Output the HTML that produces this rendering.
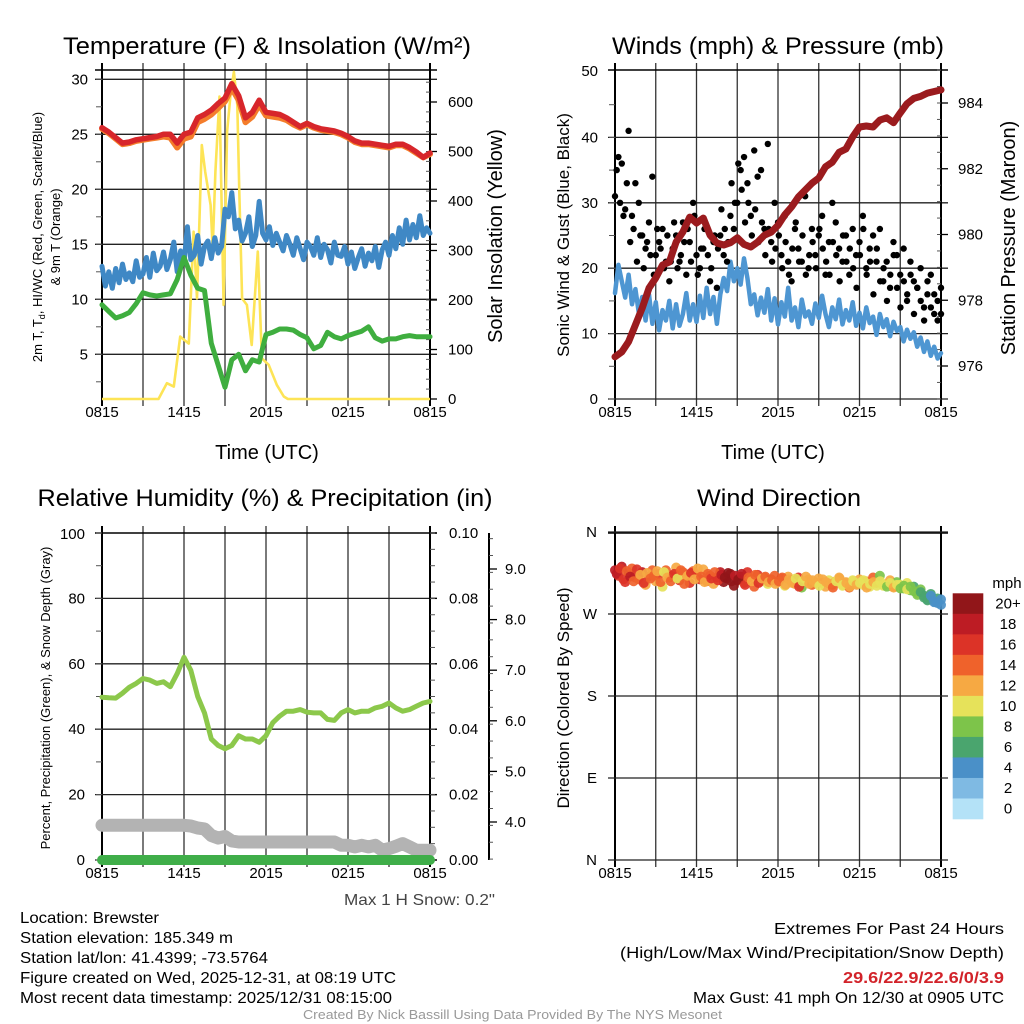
<!DOCTYPE html>
<html><head><meta charset="utf-8"><title>Brewster Meteogram</title>
<style>
html,body{margin:0;padding:0;background:#fff;}
svg{display:block;font-family:"Liberation Sans",Arial,sans-serif;}
</style></head>
<body>
<svg id="fig" width="1024" height="1024" viewBox="0 0 1024 1024" xmlns="http://www.w3.org/2000/svg">
<rect width="1024" height="1024" fill="#fff"/>
<g id="layer"></g>
<!-- titles -->
<text x="267" y="54" font-size="24" text-anchor="middle" textLength="408" lengthAdjust="spacingAndGlyphs">Temperature (F) &amp; Insolation (W/m²)</text>
<text x="778" y="54" font-size="24" text-anchor="middle" textLength="332" lengthAdjust="spacingAndGlyphs">Winds (mph) &amp; Pressure (mb)</text>
<text x="265" y="506" font-size="24" text-anchor="middle" textLength="455" lengthAdjust="spacingAndGlyphs">Relative Humidity (%) &amp; Precipitation (in)</text>
<text x="779" y="506" font-size="24" text-anchor="middle" textLength="164" lengthAdjust="spacingAndGlyphs">Wind Direction</text>
<!-- axis titles -->
<text x="267" y="459" font-size="20" text-anchor="middle">Time (UTC)</text>
<text x="773" y="459" font-size="20" text-anchor="middle">Time (UTC)</text>
<text transform="translate(502,236) rotate(-90)" font-size="20" text-anchor="middle">Solar Insolation (Yellow)</text>
<text transform="translate(1015,238) rotate(-90)" font-size="20" text-anchor="middle">Station Pressure (Maroon)</text>
<text transform="translate(569,235) rotate(-90)" font-size="17" text-anchor="middle">Sonic Wind &amp; Gust (Blue, Black)</text>
<text transform="translate(42,237) rotate(-90)" font-size="13" text-anchor="middle">2m T, T<tspan font-size="9" dy="3">d</tspan><tspan dy="-3">, HI/WC (Red, Green, Scarlet/Blue)</tspan></text>
<text transform="translate(60,237) rotate(-90)" font-size="13" text-anchor="middle">&amp; 9m T (Orange)</text>
<text transform="translate(50,698) rotate(-90)" font-size="13" text-anchor="middle">Percent, Precipitation (Green), &amp; Snow Depth (Gray)</text>
<text transform="translate(569,698) rotate(-90)" font-size="17" text-anchor="middle">Direction (Colored By Speed)</text>
<text x="344" y="905" font-size="16" fill="#444" textLength="151" lengthAdjust="spacingAndGlyphs">Max 1 H Snow: 0.2"</text>
<text x="1007" y="588" font-size="15" text-anchor="middle">mph</text>
<!-- info text -->
<g font-size="16">
<text x="20" y="923" textLength="139" lengthAdjust="spacingAndGlyphs">Location: Brewster</text>
<text x="20" y="943" textLength="213" lengthAdjust="spacingAndGlyphs">Station elevation: 185.349 m</text>
<text x="20" y="963" textLength="248" lengthAdjust="spacingAndGlyphs">Station lat/lon: 41.4399; -73.5764</text>
<text x="20" y="983" textLength="376" lengthAdjust="spacingAndGlyphs">Figure created on Wed, 2025-12-31, at 08:19 UTC</text>
<text x="20" y="1003" textLength="372" lengthAdjust="spacingAndGlyphs">Most recent data timestamp: 2025/12/31 08:15:00</text>
</g>
<g font-size="16">
<text x="774" y="934" textLength="230" lengthAdjust="spacingAndGlyphs">Extremes For Past 24 Hours</text>
<text x="620" y="958" textLength="384" lengthAdjust="spacingAndGlyphs">(High/Low/Max Wind/Precipitation/Snow Depth)</text>
<text x="843" y="983" fill="#d2232a" font-weight="bold" textLength="161" lengthAdjust="spacingAndGlyphs">29.6/22.9/22.6/0/3.9</text>
<text x="693" y="1003" textLength="311" lengthAdjust="spacingAndGlyphs">Max Gust: 41 mph On 12/30 at 0905 UTC</text>
</g>
<text x="303" y="1019" font-size="12.5" fill="#999" textLength="419" lengthAdjust="spacingAndGlyphs">Created By Nick Bassill Using Data Provided By The NYS Mesonet</text>
</svg>
<script>
// ---------- data ----------
var timeLabels = ["0815","1415","2015","0215","0815"];
var tempTicks = [5,10,15,20,25,30];
var insolTicks = [0,100,200,300,400,500,600];
var windTicks = [0,10,20,30,40];
var presTicks = [976,978,980,982,984];
var rhTicks = [0,20,40,60,80];
var precipTicks = ["0.00","0.02","0.04","0.06","0.08","0.10"];
var snowTicks = ["4.0","5.0","6.0","7.0","8.0","9.0"];
var dirTicks = ["N","E","S","W","N"];
var speedLabels = ["20+","18","16","14","12","10","8","6","4","2","0"];
var speedColors = ["#911619","#bd1c24","#dc3327","#ef622b","#f6a943","#e6e25a","#7dc44a","#4aa56e","#4a90c8","#7fbae3","#b4e2f7"];
// half-hourly temps (49)
var tempRed = [25.6,25.2,24.7,24.2,24.3,24.5,24.6,24.7,24.8,25.0,25.0,24.2,25.0,25.2,26.5,26.8,27.2,27.8,28.3,29.6,28.5,26.5,27.0,28.1,27.0,26.9,26.8,26.5,26.1,25.7,26.0,25.7,25.5,25.4,25.3,25.1,24.8,24.4,24.2,24.2,24.1,24.0,23.9,24.1,24.1,23.8,23.4,22.9,23.3];
var temp9m = [25.5,25.1,24.6,24.1,24.2,24.4,24.5,24.6,24.7,24.8,24.7,23.8,24.6,24.8,26.1,26.4,26.8,27.4,28.0,29.2,28.1,26.1,26.6,27.7,26.7,26.6,26.5,26.3,25.9,25.6,25.9,25.6,25.4,25.3,25.2,25.0,24.7,24.3,24.1,24.1,24.0,23.9,23.8,24.0,24.0,23.7,23.3,22.9,23.2];
var dewGreen = [9.5,8.9,8.3,8.5,8.8,9.6,10.6,10.4,10.3,10.4,10.5,11.8,13.8,12.2,11.0,10.8,6.0,4.0,2.0,4.5,5.0,3.5,4.5,4.3,6.8,7.0,7.3,7.3,7.2,6.8,6.5,5.5,5.8,7.0,6.6,6.4,6.7,6.9,7.1,7.5,6.5,6.2,6.4,6.4,6.6,6.7,6.6,6.6,6.6];
// quarter-hourly wind chill (97)
var windChill = [13.0,11.2,12.5,11.0,12.8,11.5,13.2,11.8,12.4,11.6,13.5,12.0,12.3,13.8,12.0,14.2,12.6,13.0,14.3,12.7,13.6,15.2,12.5,14.4,13.3,16.6,13.6,14.0,15.8,13.2,14.8,15.3,13.7,15.6,14.2,14.8,18.2,17.5,19.7,16.4,17.2,15.3,16.0,17.5,14.8,15.8,18.9,16.0,15.4,16.6,14.9,16.0,15.2,14.4,15.8,15.0,14.0,15.6,14.6,13.6,15.2,14.8,14.0,15.6,13.8,15.0,14.5,13.3,15.2,14.0,13.9,14.8,13.2,14.3,12.8,13.8,14.6,13.0,14.2,13.5,14.8,12.9,14.5,15.2,14.0,15.8,14.6,16.5,15.0,17.2,15.4,16.8,15.6,17.6,15.8,16.5,16.0];
// insolation (time in half-hour units)
var insolT = [0,8.27,9.5,10.5,11.45,12.7,13.4,13.9,14.6,15.1,15.9,16.2,16.6,17.2,17.8,18.3,18.8,19.3,19.8,20.1,20.5,21.2,21.9,22.8,23.4,24.4,25.6,26.6,27.2,48];
var insolV = [0,0,32,25,126,112,338,203,513,459,392,304,459,611,190,540,614,661,594,419,203,190,109,298,82,69,28,5,0,0];
// winds (97)
var windSpeed = [16.2,20.5,18.0,15.5,19.0,14.5,16.8,13.2,15.6,12.0,16.0,11.5,14.8,10.5,13.6,12.0,15.0,10.8,14.5,11.2,13.0,16.2,12.0,14.5,11.8,15.8,12.4,17.0,13.0,15.6,11.5,16.0,18.5,16.5,21.0,18.0,20.0,17.5,21.5,18.5,14.5,16.0,12.8,15.5,13.2,16.8,12.0,15.4,11.4,14.8,12.6,17.0,12.0,14.0,11.0,15.2,12.6,13.4,11.5,14.6,12.4,15.8,13.0,11.0,14.0,12.2,15.2,11.4,13.6,12.0,14.8,11.2,13.2,10.8,14.0,11.6,12.6,9.8,13.0,11.0,12.2,9.6,11.8,10.4,11.0,8.8,10.6,9.2,10.2,8.0,9.4,7.2,8.8,6.6,8.0,6.2,7.0];
var windGust = [31,37,36,29,41,28,33,30,25,23,27,34,22,24,26,21,18,23,25,21,27,19,24,30,22,20,23,26,18,24,17,25,22,21,28,26,30,35,37,33,28,38,34,35,26,39,24,30,27,22,28,21,18,26,23,21,31,20,26,22,25,28,19,24,30,27,23,21,25,19,26,22,24,28,20,23,25,21,26,18,21,17,24,22,19,23,15,21,18,17,20,14,16,19,13,15,17];
var windGust2 = [35,30,28,33,24,26,21,25,20,24,22,19,26,23,20,25,21,27,20,22,24,26,21,28,19,23,26,22,20,25,23,29,26,24,33,30,36,32,27,30,25,29,24,27,22,26,21,23,25,20,24,19,23,27,21,25,19,22,24,20,26,23,21,19,24,22,18,25,21,23,20,17,22,26,19,21,16,23,18,20,15,19,22,17,14,18,16,19,13,17,15,12,18,14,16,12,13];
var pressure = [976.28,976.43,976.74,977.25,977.76,978.37,978.68,979.07,979.16,979.77,980.08,980.53,980.35,980.5,979.98,979.74,979.68,979.75,979.9,979.7,979.62,979.77,979.98,980.07,980.28,980.6,980.84,981.14,981.35,981.56,981.72,982.06,982.2,982.5,982.6,982.97,983.27,983.3,983.27,983.48,983.55,983.4,983.7,983.98,984.14,984.2,984.3,984.35,984.4];
// humidity / precip / snow (49)
var rh = [49.8,49.6,49.5,51,52.8,54,55.5,55,54,54.5,53,57,62,58,50,45,37,35,34,35,38,37,37,36,38,42,44,45.5,45.5,46,45.2,45,45,43,42.7,45,46,45,45.5,45.5,46.5,47,48,46.5,45.5,46,47,48,48.5];
var precip = [0,0,0,0,0,0,0,0,0,0,0,0,0,0,0,0,0,0,0,0,0,0,0,0,0,0,0,0,0,0,0,0,0,0,0,0,0,0,0,0,0,0,0,0,0,0,0,0,0];
var snowDepth = [10.6,10.6,10.6,10.6,10.6,10.6,10.6,10.6,10.6,10.6,10.6,10.6,10.6,10.4,9.8,9.5,7.5,6.7,7.2,5.8,5.5,5.5,5.5,5.5,5.5,5.5,5.5,5.5,5.5,5.5,5.5,5.5,5.5,5.5,5.5,4.5,4.5,4.0,4.5,4.0,4.5,3.0,3.5,4.2,5.0,4.0,3.0,3.0,3.0];
// wind direction (97)
var windDir = [318,312,322,305,315,320,310,308,316,302,311,318,306,314,300,318,310,312,321,307,316,311,304,317,313,308,319,306,312,303,310,316,305,309,314,301,307,311,304,316,309,300,313,306,310,303,308,312,305,309,301,311,307,303,310,299,306,308,302,305,309,304,300,307,302,306,310,301,305,299,307,303,308,302,306,300,310,304,312,301,303,307,300,305,302,298,304,296,300,293,297,290,286,292,283,287,280];
var dirSpeed = [19,17,18,16,20,15,17,14,18,12,16,15,13,16,11,15,14,17,12,16,15,13,17,14,14,16,13,15,17,13,16,18,21,22,20,21,22,20,15,16,12,14,17,13,15,11,16,14,15,16,11,13,14,12,17,9,13,12,14,11,12,14,13,11,15,12,12,10,13,14,11,13,12,10,13,11,14,12,9,11,10,12,15,9,10,8,11,9,7,10,8,6,5,7,4,6,5];
var dirDir2 = [314,320,308,317,311,306,319,313,304,315,309,312,317,305,316,310,306,314,309,318,303,312,315,308,320,311,305,314,309,316,307,313,310,315,306,312,308,314,302,310,306,313,304,309,311,305,307,303,306,310,302,308,304,309,300,306,311,303,307,304,301,308,305,303,299,306,309,302,304,300,306,302,304,307,299,303,305,301,306,302,300,304,299,302,298,301,297,300,295,291,294,288,285,290,284,282,286];
var dirSpeed2 = [18,16,17,15,19,14,16,13,17,12,15,14,12,15,11,13,14,16,11,15,14,12,16,13,13,15,12,14,16,14,17,19,22,21,20,19,21,18,16,15,13,14,16,12,14,12,15,13,14,15,12,13,13,11,16,10,12,13,13,12,11,13,12,12,14,11,13,11,12,13,10,12,11,11,12,10,13,11,10,10,9,11,13,10,9,9,10,8,8,9,7,6,6,5,5,4,4];

// ---------- helpers ----------
var NS = "http://www.w3.org/2000/svg";
var layer = document.getElementById("layer");
function mk(tag, attrs, parent) {
  var el = document.createElementNS(NS, tag);
  for (var k in attrs) el.setAttribute(k, attrs[k]);
  (parent || layer).appendChild(el);
  return el;
}
function txt(x, y, s, size, anchor, parent) {
  var t = mk("text", {x: x, y: y, "font-size": size, "text-anchor": anchor}, parent);
  t.textContent = s;
  return t;
}
function panel(x0, x1, y0, y1) {
  return {x0: x0, x1: x1, y0: y0, y1: y1, tx: function (i, n) { return x0 + i / (n - 1) * (x1 - x0); }, th: function (h) { return x0 + h / 48 * (x1 - x0); }};
}
var P1 = panel(102, 430, 70, 399), P2 = panel(615, 941, 70, 399), P3 = panel(102, 430, 533, 860), P4 = panel(615, 941, 533, 860);
function yTemp(v) { return 409.3 - 11 * v; }
function yInsol(v) { return 399 - 0.495 * v; }
function yWind(v) { return 399 - 6.54 * v; }
function yPres(p) { return 366 - (p - 976) * 32.875; }
function yRH(v) { return 860 - 3.27 * v; }
function yPrecip(v) { return 860 - 3270 * v; }
function ySnow(v) { return 569 + (9 - v) * 50.6; }
function yDir(d) { return 860 - d * 328 / 360; }

function frame(P, name) {
  var g = mk("g", {});
  
  
  for (var k = 0; k <= 8; k++) {
    var x = P.x0 + k / 8 * (P.x1 - P.x0);
    var l = mk("line", {x1: x, x2: x, y1: P.y0 - 7, y2: P.y1 + 7, stroke: (k === 0 || k === 8) ? "#000" : "#333", "stroke-width": (k === 0 || k === 8) ? 2 : 1.3}, g);
    
    
  }
  for (var k = 0; k < timeLabels.length; k++) {
    var t = txt(P.x0 + k / 4 * (P.x1 - P.x0), P.y1 + 18, timeLabels[k], 15, "middle", g);
    
    
  }
  var b = mk("line", {x1: P.x0 - 7, x2: P.x1 + 7, y1: P.y0, y2: P.y0, stroke: "#000", "stroke-width": 1.5}, g);
  
  
  return g;
}
function hgrid(P, ys, labels, lx, g) {
  for (var i = 0; i < ys.length; i++) {
    var l = mk("line", {x1: P.x0 - 7, x2: P.x1 + 7, y1: ys[i], y2: ys[i], stroke: "#222", "stroke-width": 1.3}, g);
    
    
    var t = txt(lx, ys[i] + 5, labels[i], 15, "end", g);
    
    
  }
}
function topLabel(P, label, lx, g) {
  var t = txt(lx, P.y0 + 6, label, 15, "end", g);
  
  
}
function ticks(x, ya, yb, step, len, g) {
  for (var y = ya; y <= yb + 0.1; y += step) {
    var l = mk("line", {x1: x, x2: x + len, y1: y, y2: y, stroke: "#555", "stroke-width": 1}, g);
    
    
  }
}
function rightAxis(x, ya, yb, labels, ys, lx, g) {
  var a = mk("line", {x1: x, x2: x, y1: ya, y2: yb, stroke: "#000", "stroke-width": 2}, g);
  
  
  for (var i = 0; i < labels.length; i++) {
    var l = mk("line", {x1: x, x2: x + 7, y1: ys[i], y2: ys[i], stroke: "#000", "stroke-width": 1.3}, g);
    
    
    var t = txt(lx, ys[i] + 5, labels[i], 15, "start", g);
    
    
  }
}
function pathFrom(vals, xf, yf) {
  var d = "";
  for (var i = 0; i < vals.length; i++) d += (i ? "L" : "M") + xf(i).toFixed(1) + "," + yf(vals[i]).toFixed(1);
  return d;
}

// ---------- Panel 1 ----------
var g1 = frame(P1, "temperature-panel-frame");
hgrid(P1, tempTicks.map(yTemp), tempTicks.map(String), 88, g1);
ticks(P1.x0 - 6, yTemp(30), P1.y1, 11 * 2.5, 6, g1);
rightAxis(P1.x1, 64, P1.y1, insolTicks.map(String), insolTicks.map(yInsol), 448, g1);
ticks(P1.x1 - 4, yInsol(640), P1.y1, 0.495 * 20, 4, g1);
var sInsol = mk("path", {d: "", fill: "none", stroke: "#fde456", "stroke-width": 2.6, "stroke-linejoin": "round"});


(function () { var d = ""; for (var i = 0; i < insolT.length; i++) d += (i ? "L" : "M") + P1.th(insolT[i]).toFixed(1) + "," + yInsol(insolV[i]).toFixed(1); sInsol.setAttribute("d", d); })();
var sWC = mk("path", {d: pathFrom(windChill, function (i) { return P1.tx(i, windChill.length); }, yTemp), fill: "none", stroke: "#3f88c5", "stroke-width": 5, "stroke-linejoin": "round", "stroke-linecap": "round"});


var sDew = mk("path", {d: pathFrom(dewGreen, function (i) { return P1.tx(i, dewGreen.length); }, yTemp), fill: "none", stroke: "#3fae3f", "stroke-width": 5, "stroke-linejoin": "round", "stroke-linecap": "round"});


var s9 = mk("path", {d: pathFrom(temp9m, function (i) { return P1.tx(i, temp9m.length); }, yTemp), fill: "none", stroke: "#f47d2b", "stroke-width": 6, "stroke-linejoin": "round", "stroke-linecap": "round"});


var sT = mk("path", {d: pathFrom(tempRed, function (i) { return P1.tx(i, tempRed.length); }, yTemp), fill: "none", stroke: "#d7262b", "stroke-width": 5.5, "stroke-linejoin": "round", "stroke-linecap": "round"});



// ---------- Panel 2 ----------
var g2 = frame(P2, "winds-panel-frame");
hgrid(P2, windTicks.map(yWind), windTicks.map(String), 598, g2);
topLabel(P2, "50", 598, g2);
ticks(P2.x0 - 6, yWind(45), P2.y1, 6.54 * 5, 6, g2);
rightAxis(P2.x1, 64, P2.y1, presTicks.map(String), presTicks.map(yPres), 958, g2);
ticks(P2.x1 - 4, yPres(985), P2.y1, 32.875 / 2, 4, g2);
var sW = mk("path", {d: pathFrom(windSpeed, function (i) { return P2.tx(i, windSpeed.length); }, yWind), fill: "none", stroke: "#4e96d2", "stroke-width": 4.5, "stroke-linejoin": "round", "stroke-linecap": "round"});


for (var i = 0; i < windGust.length; i++) {
  var c = mk("circle", {cx: P2.tx(i, windGust.length), cy: yWind(windGust[i]), r: 3.2, fill: "#000"});
  
  
}
for (var i = 0; i < windGust2.length; i++) {
  var c = mk("circle", {cx: P2.tx(i + 0.5, windGust2.length + 0.5), cy: yWind(windGust2[i]), r: 3.2, fill: "#000"});
  
  
}
var sP = mk("path", {d: pathFrom(pressure, function (i) { return P2.tx(i, pressure.length); }, yPres), fill: "none", stroke: "#9b1b1e", "stroke-width": 7, "stroke-linejoin": "round", "stroke-linecap": "round"});



// ---------- Panel 3 ----------
var g3 = frame(P3, "humidity-panel-frame");
hgrid(P3, rhTicks.map(yRH), rhTicks.map(String), 85, g3);
topLabel(P3, "100", 85, g3);
ticks(P3.x0 - 6, P3.y0, P3.y1, 3.27 * 10, 6, g3);
rightAxis(P3.x1, P3.y0, P3.y1, precipTicks, precipTicks.map(function (s) { return yPrecip(parseFloat(s)); }), 449, g3);
ticks(P3.x1, P3.y0, P3.y1, 3270 * 0.005, 5, g3);
var sAx = mk("line", {x1: 489, x2: 489, y1: P3.y0, y2: P3.y1, stroke: "#000", "stroke-width": 2}, g3);


ticks(489, ySnow(9.6), P3.y1, 50.6 / 3, 4, g3);
for (var i = 0; i < snowTicks.length; i++) {
  var y = ySnow(parseFloat(snowTicks[i]));
  var l = mk("line", {x1: 489, x2: 497, y1: y, y2: y, stroke: "#000", "stroke-width": 1.3}, g3);
  
  
  var t = txt(505, y + 5, snowTicks[i], 15, "start", g3);
  
  
}
var sSn = mk("path", {d: pathFrom(snowDepth, function (i) { return P3.tx(i, snowDepth.length); }, yRH), fill: "none", stroke: "#b3b3b3", "stroke-width": 13, "stroke-linejoin": "round", "stroke-linecap": "round"});


var sPr = mk("path", {d: pathFrom(precip, function (i) { return P3.tx(i, precip.length); }, yPrecip), fill: "none", stroke: "#3fae49", "stroke-width": 10, "stroke-linejoin": "round", "stroke-linecap": "round"});


var sRH = mk("path", {d: pathFrom(rh, function (i) { return P3.tx(i, rh.length); }, yRH), fill: "none", stroke: "#8cc84b", "stroke-width": 5, "stroke-linejoin": "round", "stroke-linecap": "round"});



// ---------- Panel 4 ----------
var g4 = frame(P4, "direction-panel-frame");
hgrid(P4, [0, 90, 180, 270, 360].map(yDir), dirTicks, 597, g4);
function colorFor(s) { var b = Math.min(10, Math.floor(s / 2)); return speedColors[10 - b]; }
for (var i = 0; i < windDir.length; i++) {
  var c = mk("circle", {cx: P4.tx(i, windDir.length), cy: yDir(windDir[i]), r: 5, fill: colorFor(dirSpeed[i]), "fill-opacity": 0.92});
  
  
}
for (var i = 0; i < dirDir2.length; i++) {
  var c = mk("circle", {cx: P4.tx(i + 0.5, dirDir2.length + 0.5), cy: yDir(dirDir2[i]), r: 5, fill: colorFor(dirSpeed2[i]), "fill-opacity": 0.92});
  
  
}
for (var i = 0; i < speedColors.length; i++) {
  var h = (819 - 593.3) / speedColors.length;
  var r = mk("rect", {x: 952.7, y: 593.3 + i * h, width: 30.6, height: h + 0.3, fill: speedColors[i]});
  
  
  var t = txt(1008, 593.3 + (i + 0.5) * h + 5, speedLabels[i], 15, "middle");
  
  
}
</script>
</body></html>
